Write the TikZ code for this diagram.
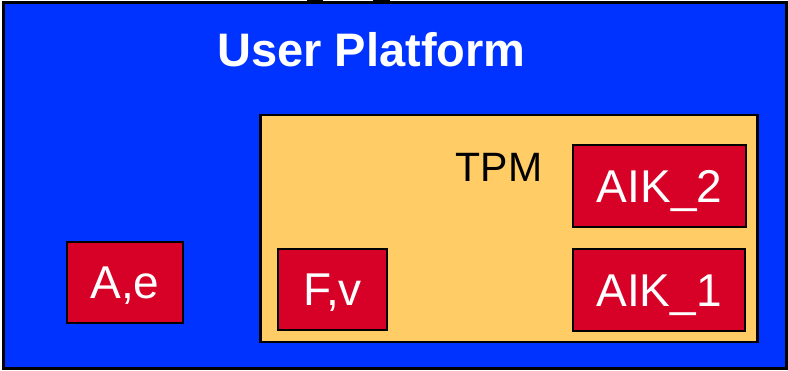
\documentclass[tikz,border=0pt]{standalone}
\usepackage{fontspec}
\setmainfont{Liberation Sans}
\definecolor{platformblue}{RGB}{0,51,255}
\definecolor{tpmorange}{RGB}{255,204,102}
\definecolor{keyred}{RGB}{215,0,38}
\tikzset{
  frame/.style={draw=black, line width=2.5pt},
  keybox/.style={frame, fill=keyred, text=white, inner sep=0pt,
    font=\fontsize{46}{46}\selectfont, text height=32.9pt, text depth=0pt},
}
\begin{document}
\begin{tikzpicture}[x=1pt, y=-1pt]
  \useasboundingbox (0,0) rectangle (788,370);
  % outer platform
  \node[frame, fill=platformblue, inner sep=0pt, minimum width=783pt, minimum height=366pt]
    (platform) at (394.75,185.25) {};
  % clipped arrow tips entering from above
  \fill[black] (307,0) rectangle (323,3.5);
  \fill[black] (373,0) rectangle (390,3.5);
  \node[text=white, font=\bfseries\fontsize{47}{47}\selectfont, inner sep=0pt,
    text height=33.7pt, text depth=0pt] (title) at (371.5,49.5) {User Platform};
  % TPM
  \node[frame, fill=tpmorange, inner sep=0pt, minimum width=497pt, minimum height=227pt]
    (tpm) at (508.75,228.25) {};
  \node[font=\fontsize{41}{41}\selectfont, inner sep=0pt, text height=29.4pt, text depth=0pt]
    (tpmlabel) at (499,167) {TPM};
  % keys
  \node[keybox, minimum width=116pt, minimum height=81pt] (ae) at (125,282.5) {A,e};
  \node[keybox, minimum width=109pt, minimum height=81pt] (fv) at (332.5,289.5) {F,v};
  \node[keybox, minimum width=173pt, minimum height=82pt] (aik2) at (659.5,186) {AIK\_2};
  \node[keybox, minimum width=172pt, minimum height=82pt] (aik1) at (659,290) {AIK\_1};
\end{tikzpicture}
\end{document}
